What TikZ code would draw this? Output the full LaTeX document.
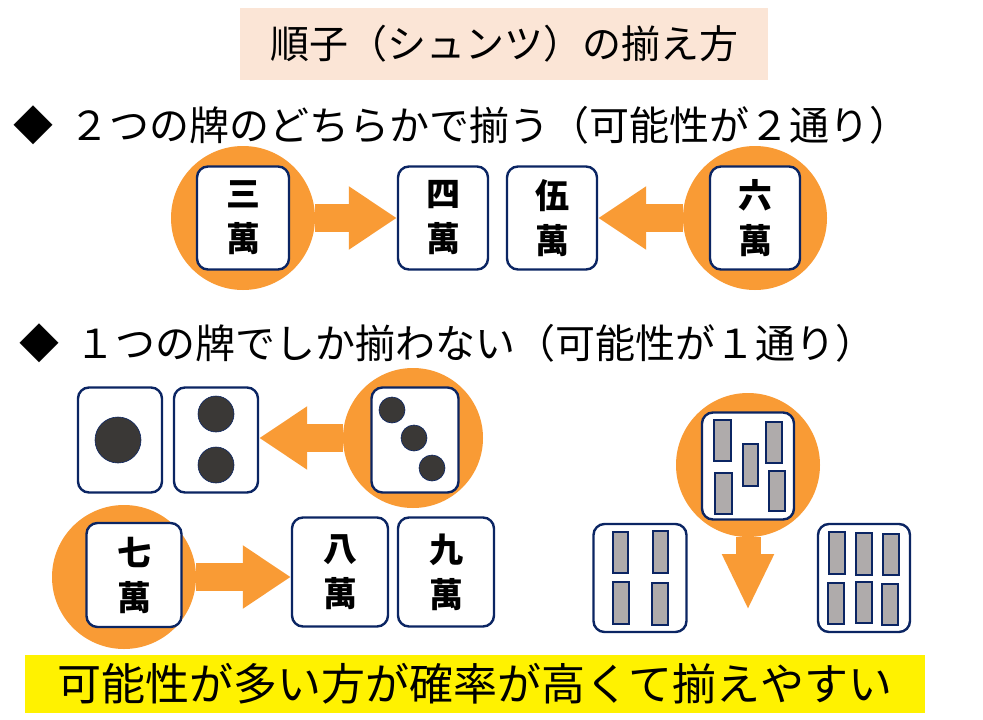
\documentclass[tikz,border=0pt]{standalone}
\usepackage{fontspec}
\setmainfont{Noto Sans CJK JP}
\usetikzlibrary{arrows.meta}
\definecolor{tileblue}{HTML}{0B2563}
\definecolor{pinkbg}{HTML}{FBE5D6}
\definecolor{mjorange}{HTML}{F99B35}
\definecolor{dotgray}{HTML}{3A3836}
\definecolor{stickgray}{HTML}{AFABAB}
\begin{document}
\begin{tikzpicture}[x=1pt,y=-1pt]
	\tikzstyle{tile}=[draw=tileblue,line width=2.4pt,fill=white,rounded corners=11pt,inner sep=0pt,
		align=center,font=\fontsize{34}{45}\selectfont\bfseries]
	\tikzstyle{halo}=[circle,fill=mjorange,minimum size=144pt,inner sep=0pt]
	\tikzstyle{pull}=[draw=mjorange,line width=28pt,-{Triangle[width=60pt,length=48pt]}]
	\tikzstyle{drop}=[draw=mjorange,line width=25pt,-{Triangle[width=48pt,length=56pt]}]
	\tikzstyle{dot}=[circle,fill=dotgray,draw=tileblue,line width=0.6pt,inner sep=0pt]
	\tikzstyle{stick}=[draw=tileblue,line width=2pt,fill=stickgray]
	\tikzstyle{heading}=[anchor=west,font=\fontsize{40}{44}\selectfont]
	\useasboundingbox (0,0) rectangle (983,720);
	\fill[white] (0,0) rectangle (983,720);
	% title
	\node[fill=pinkbg,minimum width=528pt,minimum height=72pt,font=\fontsize{39}{44}\selectfont] (title) at (504,44) {順子（シュンツ）の揃え方};
	\node[heading] (case1) at (10,125) {◆\ \,２つの牌のどちらかで揃う（可能性が２通り）};
	\node[heading] (case2) at (16,343) {◆\ \,１つの牌でしか揃わない（可能性が１通り）};
	% two-sided wait
	\node[halo] (h3) at (243,218) {};
	\node[halo] (h6) at (755,218) {};
	\node[tile,minimum width=92pt,minimum height=103pt] (m3) at (243,218) {三\\萬};
	\node[tile,minimum width=90pt,minimum height=103pt] (m4) at (443,218) {四\\萬};
	\node[tile,minimum width=90pt,minimum height=103pt] (m5) at (552,218) {伍\\萬};
	\node[tile,minimum width=90pt,minimum height=103pt] (m6) at (755,218) {六\\萬};
	\draw[pull] (h3.east) -- (m4.west);
	\draw[pull] (h6.west) -- (m5.east);
	% dots
	\node[halo,minimum size=140pt] (hp3) at (413,438) {};
	\node[tile,minimum width=84pt,minimum height=105pt] (p1) at (120,440) {};
	\node[tile,minimum width=84pt,minimum height=105pt] (p2) at (216,440) {};
	\node[tile,minimum width=87pt,minimum height=105pt] (p3) at (415,440) {};
	\node[dot,minimum size=46pt] (d11) at (118,440) {};
	\node[dot,minimum size=36pt] (d21) at (216,414) {};
	\node[dot,minimum size=36pt] (d22) at (216,465) {};
	\node[dot,minimum size=26pt] (d31) at (392,410) {};
	\node[dot,minimum size=26pt] (d32) at (414,438) {};
	\node[dot,minimum size=26pt] (d33) at (432,468) {};
	\draw[pull] (hp3.west) -- (hp3.west -| p2.east);
	% characters 7-8-9
	\node[halo] (h7) at (124,577) {};
	\node[tile,minimum width=95pt,minimum height=104pt] (m7) at (134,575) {七\\萬};
	\node[tile,minimum width=96pt,minimum height=109pt] (m8) at (340,572) {八\\萬};
	\node[tile,minimum width=96pt,minimum height=109pt] (m9) at (446,572) {九\\萬};
	\draw[pull] (h7.east) -- (h7.east -| m8.west);
	% bamboo
	\node[halo] (hs5) at (748,465) {};
	\node[tile,minimum width=92pt,minimum height=107pt] (s5) at (748,466) {};
	\node[tile,minimum width=93pt,minimum height=108pt] (s4) at (640,578) {};
	\node[tile,minimum width=92pt,minimum height=108pt] (s6) at (864,578) {};
	\coordinate (s5tip) at (748,610);
	\draw[drop] (hs5.south) -- (s5tip);
	\foreach \xa/\ya/\xb/\yb in {714/420/731/461, 743/444/758/486, 766/422/782/463, 715/473/732/514, 769/471/785/511,
		613/532/628/573, 653/531/668/573, 613/582/629/624, 652/583/668/625,
		829/532/845/574, 856/533/872/575, 883/534/899/575, 828/583/844/624, 856/582/872/623, 882/584/898/625}
		\draw[stick] (\xa,\ya) rectangle (\xb,\yb);
	% conclusion
	\node[fill=yellow,minimum width=900pt,minimum height=58pt,font=\fontsize{44}{48}\selectfont] (moral) at (475,684) {可能性が多い方が確率が高くて揃えやすい};
\end{tikzpicture}
\end{document}
